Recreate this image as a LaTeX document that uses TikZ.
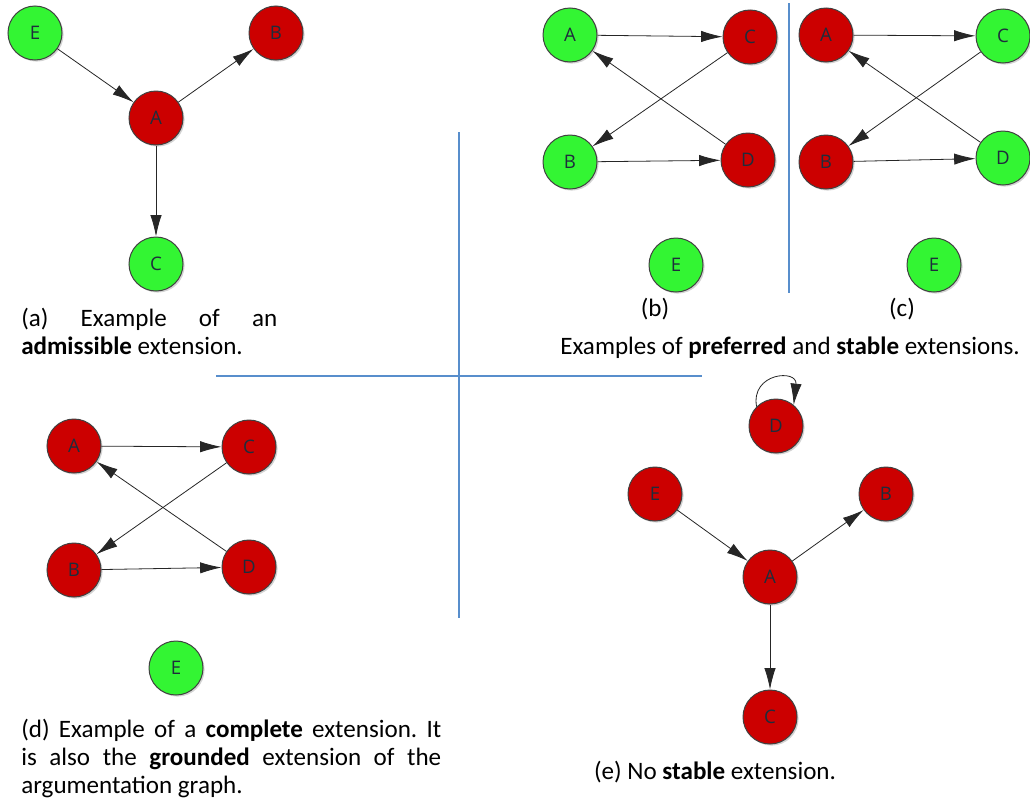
\documentclass[tikz,border=0pt]{standalone}
\usepackage{fontspec}
\setmainfont{Carlito}
\newfontfamily\argfont{Open Sans}
\usetikzlibrary{arrows.meta,shadows}
\definecolor{argred}{RGB}{204,0,0}
\definecolor{arggreen}{RGB}{51,245,51}
\definecolor{arglabel}{RGB}{30,45,60}
\definecolor{rulerblue}{RGB}{88,142,204}
\newcommand\capfont{\fontsize{18.8}{21}\selectfont\frenchspacing\hyphenpenalty=10000\relax}
\tikzset{
  arg/.style={circle, draw=black!75, line width=0.75pt, minimum size=40.5pt, inner sep=0pt,
    font=\argfont\fontsize{14}{14}\selectfont, text=arglabel,
    drop shadow={shadow xshift=1.2pt, shadow yshift=-1.2pt, opacity=0.35}},
  argin/.style={arg, fill=arggreen},
  argout/.style={arg, fill=argred},
  attack/.style={-{Latex[length=16pt,width=8.5pt]}, line width=0.6pt, black!85},
  ruler/.style={rulerblue, line width=1.5pt},
  caption/.style={font=\capfont, inner sep=0pt}
}
\begin{document}
\begin{tikzpicture}[x=0.75pt,y=-0.75pt]
			%%%%% START %%%%%
			\useasboundingbox (0,0) rectangle (1030,807);
			
			\draw[ruler] (459,132) -- (459,618);
			\draw[ruler] (216,376) -- (702,376);
			\draw[ruler] (789,3) -- (789,293);
			
			% (a) admissible
			\node[argin]  (aE) at (35,33) {E};
			\node[argout] (aB) at (276,33) {B};
			\node[argout] (aA) at (156,118) {A};
			\node[argin]  (aC) at (156,264) {C};
			\draw[attack] (aE) -- (aA);
			\draw[attack] (aA) -- (aB);
			\draw[attack] (aA) -- (aC);
			\node[caption, anchor=base west, text width=192pt, align=justify] (capA) at (21,326)
			  {(a) Example of an\linebreak \textbf{admissible} extension.};
			
			% (b) preferred
			\node[argin]  (bA) at (570,35) {A};
			\node[argout] (bC) at (750,37) {C};
			\node[argin]  (bB) at (570,162) {B};
			\node[argout] (bD) at (748,160) {D};
			\node[argin]  (bE) at (676,265) {E};
			\draw[attack] (bA) -- (bC);
			\draw[attack] (bC) -- (bB);
			\draw[attack] (bD) -- (bA);
			\draw[attack] (bB) -- (bD);
			\node[caption, anchor=base] (capB) at (655,316) {(b)};
			
			% (c) stable
			\node[argout] (cA) at (826,35) {A};
			\node[argin]  (cC) at (1003,36) {C};
			\node[argout] (cB) at (826,162) {B};
			\node[argin]  (cD) at (1003,158) {D};
			\node[argin]  (cE) at (934,265) {E};
			\draw[attack] (cA) -- (cC);
			\draw[attack] (cC) -- (cB);
			\draw[attack] (cD) -- (cA);
			\draw[attack] (cB) -- (cD);
			\node[caption, anchor=base] (capC) at (902,316) {(c)};
			\node[caption, anchor=base] (capBC) at (790,354)
			  {Examples of \textbf{preferred} and \textbf{stable} extensions.};
			
			% (d) complete
			\node[argout] (dA) at (74,446) {A};
			\node[argout] (dC) at (249,447) {C};
			\node[argout] (dB) at (74,570) {B};
			\node[argout] (dD) at (249,567) {D};
			\node[argin]  (dE) at (176,668) {E};
			\draw[attack] (dA) -- (dC);
			\draw[attack] (dC) -- (dB);
			\draw[attack] (dD) -- (dA);
			\draw[attack] (dB) -- (dD);
			\node[caption, anchor=base west, text width=315pt, align=justify] (capD) at (21,737)
			  {(d) Example of a \textbf{complete} extension. It\linebreak is also the \textbf{grounded} extension of the\linebreak argumentation graph.};
			
			% (e) no stable
			\node[argout] (eD) at (776,426) {D};
			\node[argout] (eE) at (655,494) {E};
			\node[argout] (eB) at (886,494) {B};
			\node[argout] (eA) at (770,577) {A};
			\node[argout] (eC) at (770,717) {C};
			\draw[attack] (eD.135) .. controls +(-6,-34) and +(4,-36) .. (eD.50);
			\draw[attack] (eE) -- (eA);
			\draw[attack] (eA) -- (eB);
			\draw[attack] (eA) -- (eC);
			\node[caption, anchor=base] (capE) at (715,779) {(e) No \textbf{stable} extension.};
			
			%%%%% END %%%%%
\end{tikzpicture}
\end{document}
